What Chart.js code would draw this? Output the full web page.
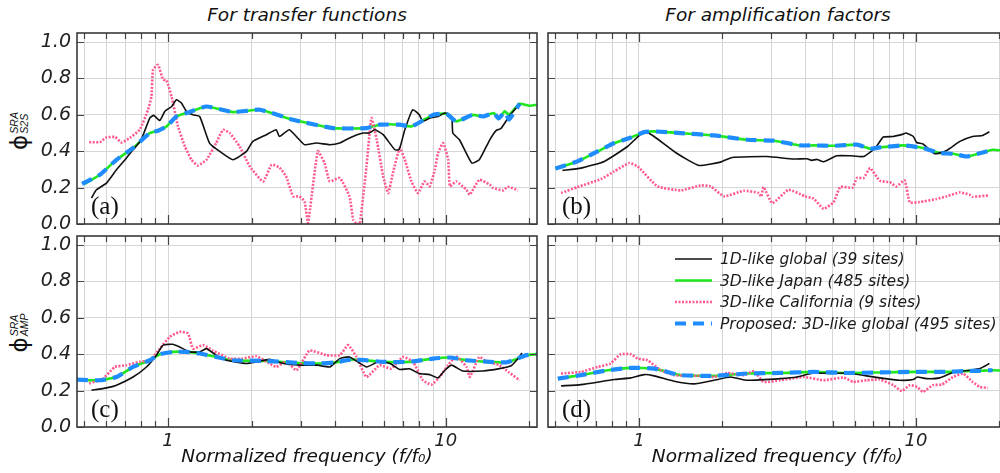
<!DOCTYPE html>
<html>
<head>
<meta charset="utf-8">
<script src="https://cdn.jsdelivr.net/npm/chart.js@4.4.0/dist/chart.umd.min.js"></script>
<style>
  body { margin: 0; background: #fff; overflow: hidden; }
  #wrap { position: relative; width: 1010px; height: 473px; }
  .panel { position: absolute; }
  .col-title { position: absolute; text-align: center; font: italic 18.5px "DejaVu Sans"; color: #111; }
  .ylab { position: absolute; transform: translate(-50%, -50%) rotate(-90deg); white-space: nowrap;
          display: flex; align-items: center; color: #111; }
  .ylab .phi { font: 23px "DejaVu Sans"; line-height: 22px; }
  .ylab .ss { display: inline-flex; flex-direction: column; font: italic 10.5px "Liberation Sans";
              line-height: 10px; margin-left: 1px; }
</style>
</head>
<body>
<div id="wrap">
  <div class="col-title" style="left:77px;top:4px;width:460px">For transfer functions</div>
  <div class="col-title" style="left:548px;top:4px;width:460px">For amplification factors</div>

  <div class="ylab" style="left:19px;top:131px"><span class="phi">ϕ</span><span class="ss"><span>SRA</span><span>S2S</span></span></div>
  <div class="ylab" style="left:19px;top:333px"><span class="phi">ϕ</span><span class="ss"><span>SRA</span><span>AMP</span></span></div>

  <div class="panel" style="left:0;top:0"><canvas id="pa" width="545" height="232"></canvas></div>
  <div class="panel" style="left:540px;top:0"><canvas id="pb" width="470" height="232"></canvas></div>
  <div class="panel" style="left:0;top:232px"><canvas id="pc" width="545" height="241"></canvas></div>
  <div class="panel" style="left:540px;top:232px"><canvas id="pd" width="470" height="241"></canvas></div>
</div>

<script>
// axis ticks
const tickVals = [0.5, 0.6, 0.7, 0.8, 0.9, 1, 2, 3, 4, 5, 6, 7, 8, 9, 10, 20];
const tickLabels = { 1: '1', 10: '10' };
const yTicks = [0, 0.2, 0.4, 0.6, 0.8, 1.0];

const seriesNames = [
  '1D-like global (39 sites)',
  '3D-like Japan (485 sites)',
  '3D-like California (9 sites)',
  'Proposed: 3D-like global (495 sites)'
];

// (a) transfer functions, phi S2S  -- [f/f0, phi]
const a_1d = [[0.53,0.143],[0.552,0.188],[0.60,0.225],[0.652,0.298],[0.70,0.353],[0.748,0.408],[0.80,0.463],[0.859,0.582],[0.888,0.597],[0.934,0.569],[0.973,0.619],[1.03,0.646],[1.072,0.683],[1.117,0.665],[1.165,0.619],[1.23,0.60],[1.30,0.591],[1.41,0.445],[1.535,0.399],[1.714,0.353],[1.915,0.399],[2.02,0.454],[2.26,0.491],[2.45,0.518],[2.52,0.481],[2.73,0.518],[2.97,0.463],[3.1,0.436],[3.42,0.445],[3.82,0.436],[4.15,0.445],[4.5,0.473],[5.03,0.50],[5.3,0.50],[5.55,0.518],[5.95,0.491],[6.56,0.408],[6.8,0.41],[7.12,0.518],[7.6,0.628],[8.03,0.60],[8.27,0.564],[8.75,0.582],[9.38,0.591],[9.92,0.61],[10.5,0.591],[10.6,0.50],[11.2,0.463],[12.4,0.335],[13.2,0.353],[14.4,0.463],[15.2,0.515],[15.8,0.525],[16.9,0.591],[18.45,0.661]];
const a_jp = [[0.50,0.22],[0.568,0.271],[0.652,0.353],[0.748,0.418],[0.859,0.50],[0.92,0.513],[0.987,0.536],[1.072,0.591],[1.165,0.61],[1.375,0.646],[1.714,0.615],[2.14,0.628],[2.82,0.573],[3.93,0.527],[5.18,0.527],[5.78,0.546],[6.83,0.546],[7.52,0.536],[9.0,0.60],[10.05,0.606],[10.9,0.564],[12.5,0.60],[13.6,0.591],[14.9,0.61],[15.5,0.58],[16.3,0.62],[16.9,0.60],[18.45,0.661],[20,0.65],[21.3,0.655]];
const a_ca = [[0.52,0.45],[0.568,0.45],[0.60,0.476],[0.645,0.478],[0.68,0.448],[0.728,0.473],[0.79,0.518],[0.847,0.628],[0.871,0.701],[0.883,0.848],[0.92,0.875],[0.96,0.793],[0.987,0.79],[1.03,0.70],[1.086,0.536],[1.15,0.426],[1.214,0.353],[1.28,0.322],[1.375,0.353],[1.49,0.445],[1.578,0.518],[1.668,0.50],[1.81,0.426],[1.97,0.316],[2.2,0.234],[2.36,0.326],[2.52,0.31],[2.66,0.262],[2.82,0.152],[2.97,0.152],[3.1,0.124],[3.19,0.005],[3.46,0.40],[3.66,0.335],[3.82,0.234],[4.15,0.253],[4.5,0.152],[4.64,0.024],[4.77,0.0],[4.9,0.0],[5.18,0.316],[5.4,0.582],[5.64,0.463],[5.95,0.262],[6.2,0.17],[6.45,0.28],[6.83,0.417],[7.12,0.353],[7.52,0.234],[7.94,0.17],[8.38,0.234],[8.75,0.207],[9.13,0.298],[9.38,0.39],[9.78,0.445],[10.2,0.353],[10.35,0.207],[10.9,0.234],[11.87,0.188],[12.2,0.161],[13.2,0.243],[14.4,0.216],[14.8,0.198],[16.1,0.185],[16.7,0.205],[18.2,0.185]];
const a_gl = [[0.49,0.22],[0.568,0.271],[0.652,0.353],[0.748,0.418],[0.859,0.50],[0.92,0.513],[0.987,0.536],[1.072,0.591],[1.165,0.61],[1.375,0.646],[1.714,0.615],[2.14,0.628],[2.82,0.573],[3.93,0.527],[5.18,0.527],[5.78,0.546],[6.83,0.546],[7.52,0.536],[9.0,0.60],[10.05,0.606],[10.9,0.564],[12.5,0.60],[13.6,0.591],[14.9,0.61],[15.5,0.58],[16.3,0.615],[16.9,0.575],[18.45,0.661]];

// (b) amplification factors, phi S2S
const b_1d = [[0.53,0.295],[0.618,0.307],[0.75,0.344],[0.91,0.426],[1.045,0.509],[1.135,0.481],[1.378,0.386],[1.648,0.322],[1.97,0.34],[2.17,0.366],[2.9,0.371],[3.62,0.357],[4.04,0.359],[4.2,0.35],[4.4,0.355],[4.64,0.342],[5.18,0.375],[5.79,0.375],[6.47,0.371],[7.13,0.418],[7.62,0.478],[8.28,0.481],[8.98,0.494],[9.2,0.50],[9.78,0.481],[10.05,0.448],[10.6,0.44],[11.7,0.386],[12.9,0.404],[14.4,0.454],[16.0,0.481],[17.4,0.487],[18.4,0.507]];
const b_jp = [[0.50,0.305],[0.60,0.344],[0.71,0.399],[0.815,0.445],[0.936,0.476],[1.045,0.505],[1.135,0.509],[1.416,0.50],[1.866,0.487],[2.46,0.463],[3.07,0.458],[3.82,0.432],[4.27,0.432],[5.04,0.43],[6.12,0.436],[6.83,0.414],[7.4,0.421],[8.98,0.432],[10.6,0.418],[12.2,0.39],[13.6,0.386],[15.2,0.371],[17.4,0.393],[18.9,0.408],[20,0.405],[21.3,0.40]];
const b_ca = [[0.524,0.17],[0.60,0.203],[0.73,0.247],[0.815,0.289],[0.923,0.335],[0.99,0.316],[1.168,0.207],[1.416,0.185],[1.67,0.212],[1.815,0.207],[2.03,0.152],[2.39,0.183],[2.71,0.17],[2.76,0.15],[2.82,0.203],[3.03,0.115],[3.47,0.188],[3.98,0.152],[4.27,0.14],[4.64,0.084],[5.04,0.119],[5.33,0.203],[5.9,0.2],[6.12,0.253],[6.47,0.253],[6.83,0.307],[7.4,0.238],[8.05,0.229],[8.5,0.207],[9.1,0.24],[9.5,0.119],[10.3,0.121],[11.85,0.137],[12.9,0.152],[14.4,0.174],[15.6,0.161],[16.0,0.15],[18.4,0.157]];
const b_gl = [[0.50,0.305],[0.60,0.344],[0.71,0.399],[0.815,0.445],[0.936,0.476],[1.045,0.505],[1.135,0.509],[1.416,0.50],[1.866,0.487],[2.46,0.463],[3.07,0.458],[3.82,0.432],[4.27,0.432],[5.04,0.43],[6.12,0.436],[6.83,0.414],[7.4,0.421],[8.98,0.432],[10.6,0.418],[12.2,0.39],[13.6,0.386],[15.2,0.371],[17.4,0.393],[18.9,0.408]];

// (c) transfer functions, phi AMP
const c_1d = [[0.53,0.202],[0.60,0.215],[0.652,0.23],[0.748,0.275],[0.836,0.33],[0.908,0.395],[0.96,0.45],[1.04,0.455],[1.10,0.44],[1.197,0.413],[1.30,0.413],[1.375,0.431],[1.49,0.395],[1.62,0.367],[1.915,0.349],[2.08,0.358],[2.32,0.372],[2.6,0.349],[2.97,0.34],[3.46,0.34],[3.82,0.33],[4.15,0.376],[4.5,0.385],[5.18,0.33],[5.78,0.363],[6.3,0.349],[6.83,0.316],[7.4,0.32],[8.03,0.294],[8.75,0.288],[9.38,0.27],[9.92,0.312],[10.5,0.34],[11.5,0.308],[13.6,0.308],[15.6,0.321],[17.2,0.337],[18.4,0.385],[18.8,0.407]];
const c_jp = [[0.494,0.257],[0.567,0.257],[0.652,0.275],[0.748,0.33],[0.859,0.367],[0.934,0.40],[1.04,0.413],[1.165,0.413],[1.30,0.404],[1.49,0.385],[1.714,0.367],[2.26,0.363],[2.97,0.352],[3.52,0.349],[3.98,0.355],[4.64,0.371],[5.95,0.358],[7.4,0.358],[9.0,0.376],[10.35,0.382],[11.87,0.367],[14.4,0.358],[16.5,0.355],[17.5,0.367],[19.5,0.395],[21.3,0.40]];
const c_ca = [[0.52,0.239],[0.583,0.266],[0.643,0.33],[0.708,0.34],[0.79,0.358],[0.859,0.367],[0.934,0.431],[1.014,0.495],[1.10,0.523],[1.18,0.514],[1.23,0.431],[1.337,0.45],[1.45,0.42],[1.668,0.376],[1.85,0.376],[2.08,0.389],[2.32,0.349],[2.45,0.33],[2.66,0.36],[2.9,0.312],[3.23,0.42],[3.72,0.395],[4.15,0.395],[4.45,0.45],[4.77,0.385],[5.18,0.275],[5.78,0.34],[6.36,0.321],[7.0,0.385],[7.62,0.358],[8.27,0.257],[8.88,0.233],[9.5,0.275],[10.2,0.34],[10.9,0.389],[11.87,0.33],[12.2,0.275],[13.2,0.385],[14.0,0.36],[15.6,0.34],[16.9,0.30],[18.45,0.257]];
const c_gl = [[0.47,0.26],[0.567,0.257],[0.652,0.275],[0.748,0.33],[0.859,0.367],[0.934,0.40],[1.04,0.413],[1.165,0.413],[1.30,0.404],[1.49,0.385],[1.714,0.367],[2.26,0.363],[2.97,0.352],[3.52,0.349],[3.98,0.355],[4.64,0.371],[5.95,0.358],[7.4,0.358],[9.0,0.376],[10.35,0.382],[11.87,0.367],[14.4,0.358],[16.5,0.355],[17.5,0.367],[19.5,0.395],[21.3,0.40]];

// (d) amplification factors, phi AMP
const d_1d = [[0.524,0.226],[0.618,0.233],[0.815,0.261],[0.936,0.27],[1.045,0.288],[1.135,0.281],[1.34,0.252],[1.58,0.237],[1.866,0.257],[2.14,0.275],[2.46,0.257],[3.24,0.266],[3.72,0.275],[4.27,0.297],[4.9,0.294],[5.62,0.297],[6.63,0.281],[7.4,0.27],[8.72,0.257],[9.78,0.261],[10.1,0.275],[10.9,0.266],[12.2,0.27],[13.6,0.30],[15.6,0.312],[17.0,0.321],[18.4,0.349]];
const d_jp = [[0.51,0.266],[0.618,0.285],[0.772,0.312],[0.936,0.325],[1.135,0.321],[1.416,0.285],[1.866,0.281],[2.46,0.294],[3.24,0.297],[4.27,0.303],[5.62,0.297],[7.4,0.30],[9.78,0.303],[12.9,0.303],[14.8,0.307],[17.0,0.309],[18.9,0.312],[21.3,0.31]];
const d_ca = [[0.524,0.294],[0.618,0.303],[0.71,0.33],[0.79,0.349],[0.86,0.40],[0.936,0.40],[0.99,0.376],[1.074,0.367],[1.2,0.312],[1.34,0.285],[1.625,0.281],[1.866,0.275],[2.08,0.297],[2.39,0.285],[2.6,0.307],[2.82,0.248],[3.24,0.257],[3.93,0.275],[4.64,0.257],[5.47,0.272],[5.94,0.248],[6.63,0.257],[7.4,0.261],[8.28,0.23],[8.88,0.198],[9.5,0.23],[10.1,0.22],[10.6,0.193],[11.5,0.23],[12.4,0.233],[13.6,0.275],[14.8,0.294],[16.0,0.248],[17.0,0.22],[18.2,0.215]];
const d_gl = [[0.51,0.266],[0.618,0.285],[0.772,0.312],[0.936,0.325],[1.135,0.321],[1.416,0.285],[1.866,0.281],[2.46,0.294],[3.24,0.297],[4.27,0.303],[5.62,0.297],[7.4,0.30],[9.78,0.303],[12.9,0.303],[14.8,0.307],[17.0,0.309],[18.9,0.312]];

const tickFont = { family: 'DejaVu Sans', style: 'italic', size: 19 };

// frame with inward ticks on all sides, plus the panel letter
const framePlugin = {
  id: 'frame',
  afterDatasetsDraw(chart, args, opts) {
    const { ctx, chartArea: a } = chart;
    const x = chart.scales.x, y = chart.scales.y;
    ctx.save();
    ctx.strokeStyle = '#444';
    ctx.lineWidth = 1.2;
    ctx.beginPath();
    tickVals.forEach(v => {
      const px = Math.round(x.getPixelForValue(v)) + 0.5;
      const len = tickLabels[v] ? 9 : 6;
      ctx.moveTo(px, a.top); ctx.lineTo(px, a.top + len);
      ctx.moveTo(px, a.bottom); ctx.lineTo(px, a.bottom - len);
    });
    yTicks.forEach(v => {
      const py = Math.round(y.getPixelForValue(v)) + 0.5;
      ctx.moveTo(a.left, py); ctx.lineTo(a.left + 7, py);
      ctx.moveTo(a.right, py); ctx.lineTo(a.right - 7, py);
    });
    ctx.stroke();
    ctx.lineWidth = 1.6;
    ctx.strokeStyle = '#3a3a3a';
    ctx.strokeRect(a.left, a.top, a.right - a.left, a.bottom - a.top);

    ctx.fillStyle = '#111';
    ctx.font = '25px "Liberation Serif"';
    ctx.textBaseline = 'alphabetic';
    ctx.fillText(opts.letter, a.left + 14, a.bottom - 10);
    ctx.restore();
  }
};

// legend box drawn inside panel (d)
const keyPlugin = {
  id: 'key',
  afterDraw(chart, args, opts) {
    if (!opts.show) return;
    const ctx = chart.ctx;
    ctx.save();
    ctx.font = 'italic 15.5px "DejaVu Sans"';
    ctx.textBaseline = 'middle';
    chart.data.datasets.forEach((ds, i) => {
      const yy = opts.y + i * opts.step;
      ctx.strokeStyle = ds.borderColor;
      ctx.lineWidth = ds.borderWidth;
      ctx.setLineDash(ds.borderDash || []);
      ctx.beginPath();
      ctx.moveTo(opts.x, yy);
      ctx.lineTo(opts.x + 37, yy);
      ctx.stroke();
      ctx.setLineDash([]);
      ctx.fillStyle = '#1a1a1a';
      ctx.fillText(ds.label, opts.x + 45, yy + 1);
    });
    ctx.restore();
  }
};

function pts(arr) {
  return arr.map(p => ({ x: p[0], y: p[1] }));
}

function makePanel(id, p) {
  const datasets = [
    { label: seriesNames[0], data: pts(p.s1d), borderColor: '#111111', borderWidth: 1.6, order: 1 },
    { label: seriesNames[1], data: pts(p.jp), borderColor: '#1fe61f', borderWidth: 2.6, order: 3 },
    { label: seriesNames[2], data: pts(p.ca), borderColor: '#ff5a8e', borderWidth: 2.6, borderDash: [2, 1.5], order: 2 },
    { label: seriesNames[3], data: pts(p.gl), borderColor: '#1e8cff', borderWidth: 4.2, borderDash: [11, 7], order: 0 }
  ];
  datasets.forEach(d => { d.clip = 0; d.pointRadius = 0; d.tension = 0.15; d.fill = false; });

  return new Chart(document.getElementById(id), {
    type: 'line',
    data: { datasets },
    options: {
      responsive: false,
      animation: false,
      devicePixelRatio: 1,
      layout: { padding: { top: p.top, right: p.right, left: 0, bottom: 0 } },
      plugins: {
        legend: { display: false },
        tooltip: { enabled: false },
        frame: { letter: p.letter },
        key: p.key || { show: false }
      },
      scales: {
        x: {
          type: 'logarithmic',
          min: 0.47,
          max: 21.3,
          afterBuildTicks: s => { s.ticks = tickVals.map(v => ({ value: v })); },
          afterFit: s => { s.height = p.xh; s.paddingLeft = 0; s.paddingRight = 0; },
          grid: { color: '#d6d6d6', lineWidth: 1, drawTicks: false },
          border: { display: false },
          ticks: {
            display: p.xLabels,
            autoSkip: false,
            maxRotation: 0,
            padding: 4,
            color: '#222',
            font: { family: 'DejaVu Sans', style: 'italic', size: 18 },
            callback: v => tickLabels[v] || ''
          },
          title: {
            display: p.xLabels,
            text: 'Normalized frequency (f/f₀)',
            color: '#111',
            font: { family: 'DejaVu Sans', style: 'italic', size: 18.5 },
            padding: { top: 0, bottom: 5 }
          }
        },
        y: {
          min: 0,
          max: 1.05,
          afterBuildTicks: s => { s.ticks = yTicks.map(v => ({ value: v })); },
          afterFit: s => { s.width = p.yw; s.paddingTop = 0; s.paddingBottom = 0; },
          grid: { color: '#d6d6d6', lineWidth: 1, drawTicks: false },
          border: { display: false },
          ticks: {
            display: p.yLabels,
            padding: 6,
            color: '#222',
            font: tickFont,
            callback: v => v.toFixed(1)
          }
        }
      }
    },
    plugins: [framePlugin, keyPlugin]
  });
}

makePanel('pa', { s1d: a_1d, jp: a_jp, ca: a_ca, gl: a_gl, letter: '(a)',
  top: 33, right: 8, yw: 77, xh: 8, xLabels: false, yLabels: true });
makePanel('pb', { s1d: b_1d, jp: b_jp, ca: b_ca, gl: b_gl, letter: '(b)',
  top: 33, right: 3, yw: 8, xh: 8, xLabels: false, yLabels: false });
makePanel('pc', { s1d: c_1d, jp: c_jp, ca: c_ca, gl: c_gl, letter: '(c)',
  top: 4, right: 8, yw: 77, xh: 46, xLabels: true, yLabels: true });
makePanel('pd', { s1d: d_1d, jp: d_jp, ca: d_ca, gl: d_gl, letter: '(d)',
  top: 4, right: 3, yw: 8, xh: 46, xLabels: true, yLabels: false,
  key: { show: true, x: 135, y: 27, step: 21.5 } });
</script>
</body>
</html>
